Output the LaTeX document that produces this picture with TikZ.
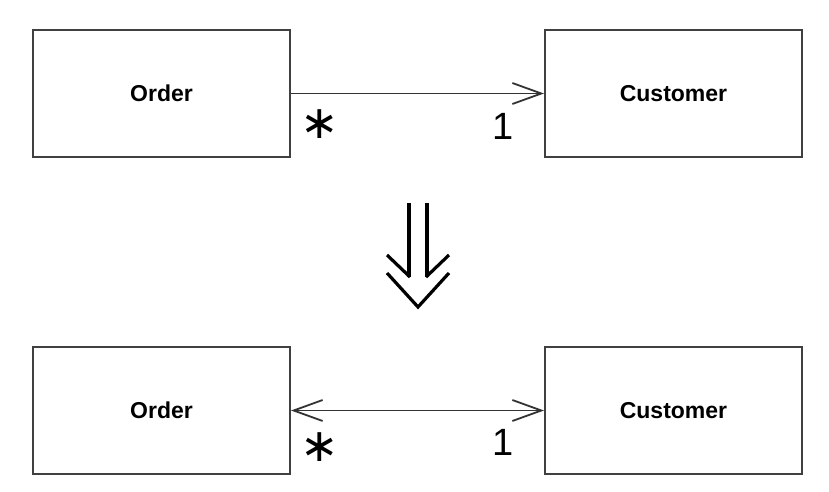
\documentclass[tikz,border=0pt]{standalone}
\usepackage{fontspec}
\setmainfont{Liberation Sans}
\newfontfamily\symfont{DejaVu Sans}
\usetikzlibrary{arrows.meta}
\tikzset{
  classbox/.style={draw=black!75, line width=2pt, minimum width=257pt,
    minimum height=127pt, inner sep=0pt,
    font=\fontsize{23}{27}\selectfont\bfseries},
  assoc/.style={draw=black!80, line width=1.8pt},
  barb/.tip={Straight Barb[length=29pt, width=21pt, line width=1.8pt]},
  mult/.style={inner sep=0pt, font=\fontsize{38}{44}\selectfont},
  star/.style={inner sep=0pt, font=\symfont\fontsize{46}{50}\selectfont}
}
\begin{document}
\begin{tikzpicture}[x=1pt, y=-1pt]
  \useasboundingbox (0,0) rectangle (829,492);
  % classes before
  \node[classbox] (orderA) at (161.5,93.5) {Order};
  \node[classbox] (customerA) at (673.5,93.5) {Customer};
  % classes after
  \node[classbox] (orderB) at (161.5,410.5) {Order};
  \node[classbox] (customerB) at (673.5,410.5) {Customer};
  % associations
  \draw[assoc, -barb] (orderA.east) -- (customerA.west);
  \draw[assoc, barb-barb] (orderB.east) -- (customerB.west);
  % multiplicities
  \node[star] (manyA) at (320,124) {∗};
  \node[mult] (oneA) at (503,126) {1};
  \node[star] (manyB) at (320,447) {∗};
  \node[mult] (oneB) at (503,442) {1};
  % refactoring arrow
  \begin{scope}[line width=3.2pt, line cap=butt, line join=miter]
    \draw (409,203) -- (409,277);
    \draw (427,203) -- (427,277);
    \draw (387,255) -- (410,277);
    \draw (449,255) -- (426,277);
    \draw (387,273) -- (418,307) -- (449,273);
  \end{scope}
\end{tikzpicture}
\end{document}
